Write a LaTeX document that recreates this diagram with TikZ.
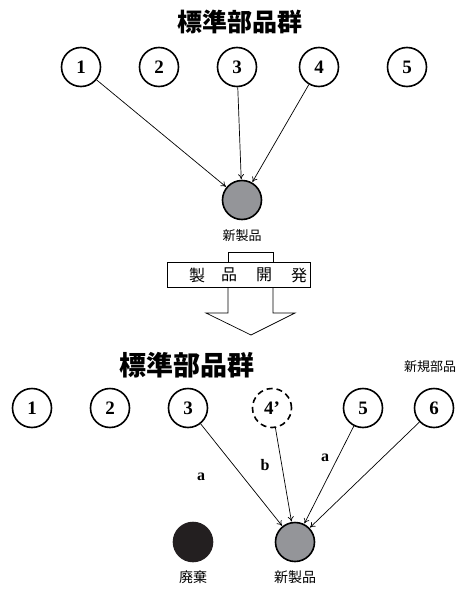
\documentclass[tikz,border=0pt]{standalone}
\usepackage{fontspec}
\setmainfont{Liberation Serif}
\newfontfamily\cjk{Noto Sans CJK JP}
\usetikzlibrary{arrows.meta}
\definecolor{prodgray}{RGB}{148,149,153}
\definecolor{wasteblack}{RGB}{35,31,32}
\begin{document}
\begin{tikzpicture}[x=1pt,y=-1pt,
  part/.style={circle,draw,line width=1.6pt,minimum size=39pt,inner sep=0pt,font=\bfseries\fontsize{19}{19}\selectfont},
  prod/.style={circle,draw,line width=1.6pt,minimum size=39pt,inner sep=0pt,fill=prodgray},
  waste/.style={circle,draw=wasteblack,line width=1.6pt,minimum size=39pt,inner sep=0pt,fill=wasteblack},
  conn/.style={-{To[length=5pt,width=6pt]},line width=0.7pt,shorten >=0.5pt},
  title/.style={font=\cjk\bfseries\fontsize{25}{25}\selectfont},
  lbl/.style={font=\cjk\fontsize{13}{13}\selectfont},
  letter/.style={font=\bfseries\fontsize{16}{16}\selectfont}]
\useasboundingbox (0,0) rectangle (465,589);
% top
\node[title] (t1) at (240,22) {標準部品群};
\node[part] (a1) at (81,67) {1};
\node[part] (a2) at (159,67) {2};
\node[part] (a3) at (237,67) {3};
\node[part] (a4) at (319,67) {4};
\node[part] (a5) at (407,67) {5};
\node[prod] (np1) at (242,200) {};
\node[lbl] (np1l) at (242,236) {新製品};
\draw[conn] (a1) -- (np1);
\draw[conn] (a3) -- (np1);
\draw[conn] (a4) -- (np1);
% middle arrow
\draw[line width=0.7pt] (228,262) -- (228,252) -- (273,252) -- (273,262);
\draw[line width=0.7pt] (228,287) -- (228,313) -- (206,313) -- (251,335) -- (295,313) -- (273,313) -- (273,287);
\node[draw,line width=0.7pt,minimum width=143pt,minimum height=25pt,inner sep=0pt] (dev) at (238.5,274.5) {};
\node[font=\cjk\fontsize{16}{16}\selectfont] (d1) at (197,275) {製};
\node[font=\cjk\fontsize{16}{16}\selectfont] (d2) at (229,275) {品};
\node[font=\cjk\fontsize{16}{16}\selectfont] (d3) at (264,275) {開};
\node[font=\cjk\fontsize{16}{16}\selectfont] (d4) at (299,275) {発};
% bottom
\node[title,font=\cjk\bfseries\fontsize{27}{27}\selectfont] (t2) at (187,365) {標準部品群};
\node[lbl] (newp) at (430,367) {新規部品};
\node[part] (b1) at (32,408) {1};
\node[part] (b2) at (110,408) {2};
\node[part] (b3) at (188,408) {3};
\node[part,dash pattern=on 6pt off 4pt] (b4) at (272,408) {4’};
\node[part] (b5) at (363,408) {5};
\node[part] (b6) at (434,408) {6};
\node[waste] (w) at (193,542) {};
\node[prod] (np2) at (295,542) {};
\node[lbl,font=\cjk\fontsize{14}{14}\selectfont] (wl) at (193,577) {廃棄};
\node[lbl,font=\cjk\fontsize{14}{14}\selectfont] (np2l) at (295,577) {新製品};
\draw[conn] (b3) -- (np2);
\draw[conn] (b4) -- (np2);
\draw[conn] (b5) -- (np2);
\draw[conn] (b6) -- (np2);
\node[letter] (la) at (201,477) {a};
\node[letter] (lb) at (265,465) {b};
\node[letter] (lc) at (325,458) {a};
\end{tikzpicture}
\end{document}
